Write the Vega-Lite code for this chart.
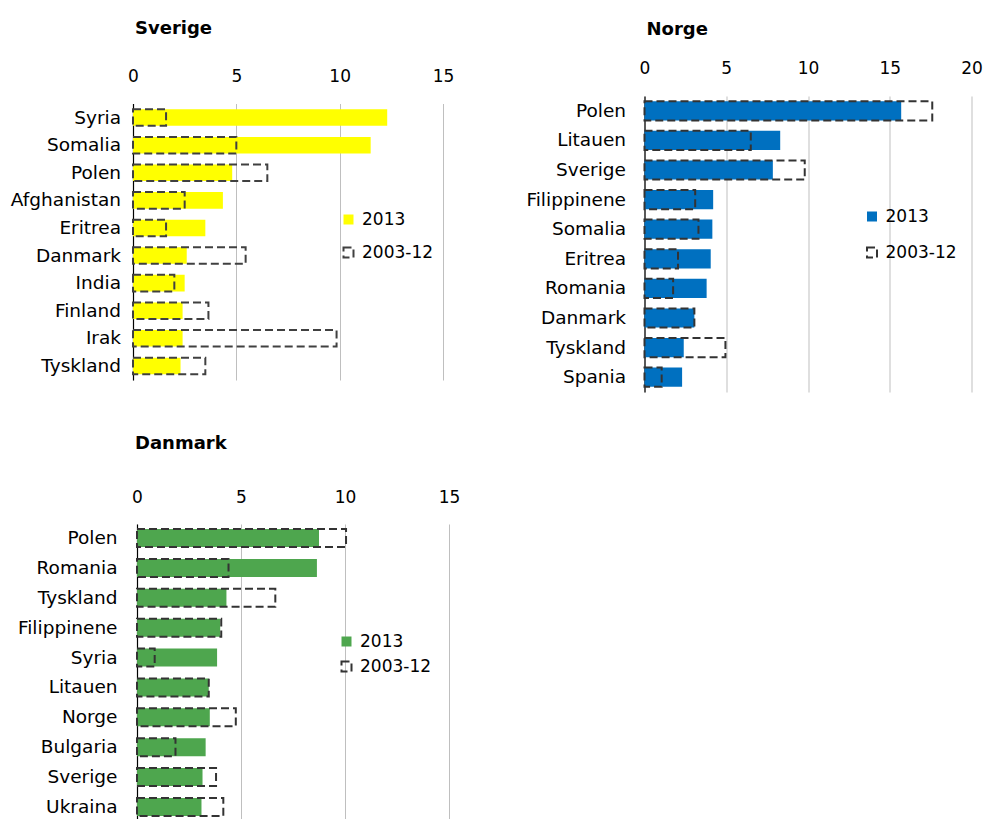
{
  "$schema": "https://vega.github.io/schema/vega-lite/v6.json",
  "padding": {"left": 10, "top": 20, "right": 5, "bottom": 0},
  "background": "white",
  "config": {
    "font": "DejaVu Sans",
    "view": {"stroke": null},
    "title": {"fontSize": 18, "fontWeight": "bold", "anchor": "start", "frame": "group", "color": "#000000", "dx": 2},
    "axis": {"labelColor": "#000000", "labelFont": "DejaVu Sans", "ticks": false, "tickSize": 0, "labelFlush": false},
    "legend": {"orient": "none", "padding": 0, "symbolType": "square", "symbolSize": 100, "labelFontSize": 17, "labelColor": "#000000", "symbolStrokeWidth": 2, "labelOffset": 5}
  },
  "datasets": {
    "sverige": [
      {"land": "Syria", "serie": "2013", "verdi": 12.3},
      {"land": "Somalia", "serie": "2013", "verdi": 11.5},
      {"land": "Polen", "serie": "2013", "verdi": 4.8},
      {"land": "Afghanistan", "serie": "2013", "verdi": 4.35},
      {"land": "Eritrea", "serie": "2013", "verdi": 3.5},
      {"land": "Danmark", "serie": "2013", "verdi": 2.6},
      {"land": "India", "serie": "2013", "verdi": 2.5},
      {"land": "Finland", "serie": "2013", "verdi": 2.4},
      {"land": "Irak", "serie": "2013", "verdi": 2.4},
      {"land": "Tyskland", "serie": "2013", "verdi": 2.3},
      {"land": "Syria", "serie": "2003-12", "verdi": 1.6},
      {"land": "Somalia", "serie": "2003-12", "verdi": 5.0},
      {"land": "Polen", "serie": "2003-12", "verdi": 6.5},
      {"land": "Afghanistan", "serie": "2003-12", "verdi": 2.5},
      {"land": "Eritrea", "serie": "2003-12", "verdi": 1.6},
      {"land": "Danmark", "serie": "2003-12", "verdi": 5.45},
      {"land": "India", "serie": "2003-12", "verdi": 2.0},
      {"land": "Finland", "serie": "2003-12", "verdi": 3.65},
      {"land": "Irak", "serie": "2003-12", "verdi": 9.85},
      {"land": "Tyskland", "serie": "2003-12", "verdi": 3.5}
    ],
    "norge": [
      {"land": "Polen", "serie": "2013", "verdi": 15.7},
      {"land": "Litauen", "serie": "2013", "verdi": 8.3},
      {"land": "Sverige", "serie": "2013", "verdi": 7.85},
      {"land": "Filippinene", "serie": "2013", "verdi": 4.2},
      {"land": "Somalia", "serie": "2013", "verdi": 4.15},
      {"land": "Eritrea", "serie": "2013", "verdi": 4.05},
      {"land": "Romania", "serie": "2013", "verdi": 3.8},
      {"land": "Danmark", "serie": "2013", "verdi": 3.05},
      {"land": "Tyskland", "serie": "2013", "verdi": 2.4},
      {"land": "Spania", "serie": "2013", "verdi": 2.3},
      {"land": "Polen", "serie": "2003-12", "verdi": 17.6},
      {"land": "Litauen", "serie": "2003-12", "verdi": 6.5},
      {"land": "Sverige", "serie": "2003-12", "verdi": 9.8},
      {"land": "Filippinene", "serie": "2003-12", "verdi": 3.1},
      {"land": "Somalia", "serie": "2003-12", "verdi": 3.3},
      {"land": "Eritrea", "serie": "2003-12", "verdi": 2.05},
      {"land": "Romania", "serie": "2003-12", "verdi": 1.75},
      {"land": "Danmark", "serie": "2003-12", "verdi": 3.05},
      {"land": "Tyskland", "serie": "2003-12", "verdi": 4.95},
      {"land": "Spania", "serie": "2003-12", "verdi": 1.05}
    ],
    "danmark": [
      {"land": "Polen", "serie": "2013", "verdi": 8.75},
      {"land": "Romania", "serie": "2013", "verdi": 8.65},
      {"land": "Tyskland", "serie": "2013", "verdi": 4.3},
      {"land": "Filippinene", "serie": "2013", "verdi": 4.0},
      {"land": "Syria", "serie": "2013", "verdi": 3.85},
      {"land": "Litauen", "serie": "2013", "verdi": 3.45},
      {"land": "Norge", "serie": "2013", "verdi": 3.5},
      {"land": "Bulgaria", "serie": "2013", "verdi": 3.3},
      {"land": "Sverige", "serie": "2013", "verdi": 3.15},
      {"land": "Ukraina", "serie": "2013", "verdi": 3.1},
      {"land": "Polen", "serie": "2003-12", "verdi": 10.05},
      {"land": "Romania", "serie": "2003-12", "verdi": 4.4},
      {"land": "Tyskland", "serie": "2003-12", "verdi": 6.65},
      {"land": "Filippinene", "serie": "2003-12", "verdi": 4.05},
      {"land": "Syria", "serie": "2003-12", "verdi": 0.85},
      {"land": "Litauen", "serie": "2003-12", "verdi": 3.45},
      {"land": "Norge", "serie": "2003-12", "verdi": 4.75},
      {"land": "Bulgaria", "serie": "2003-12", "verdi": 1.85},
      {"land": "Sverige", "serie": "2003-12", "verdi": 3.8},
      {"land": "Ukraina", "serie": "2003-12", "verdi": 4.15}
    ]
  },
  "spacing": 43,
  "resolve": {"scale": {"x": "independent", "y": "independent", "fill": "independent", "stroke": "independent", "strokeDash": "independent"}, "legend": {"fill": "independent", "stroke": "independent", "strokeDash": "independent"}},
  "vconcat": [
    {
      "spacing": 71.5,
      "resolve": {"scale": {"x": "independent", "y": "independent", "fill": "independent", "stroke": "independent", "strokeDash": "independent"}, "legend": {"fill": "independent", "stroke": "independent", "strokeDash": "independent"}},
      "hconcat": [
        {
          "title": {"text": "Sverige", "offset": 29},
          "width": 310,
          "height": 296,
          "data": {"name": "sverige"},
          "mark": {"type": "bar", "strokeWidth": 2},
          "encoding": {
            "y": {"field": "land", "type": "nominal", "sort": null, "title": null,
              "scale": {"range": [7.5, 284], "paddingInner": 0.4, "paddingOuter": 0.21},
              "axis": {"labelPadding": 12.5, "labelFontSize": 18.5, "domain": true, "domainColor": "#000000", "domainWidth": 1.2, "grid": false}},
            "x": {"field": "verdi", "type": "quantitative", "stack": null, "title": null,
              "scale": {"domain": [0, 15], "nice": false},
              "axis": {"orient": "top", "values": [0, 5, 10, 15], "domain": false, "grid": true, "gridColor": "#bfbfbf", "gridWidth": 1, "labelPadding": 11, "labelFontSize": 17}},
            "fill": {"field": "serie", "type": "nominal", "sort": null,
              "scale": {"domain": ["2013", "2003-12"], "range": ["#ffff00", "transparent"]},
              "legend": {"title": null, "legendX": 207, "legendY": 115, "rowPadding": 14}},
            "stroke": {"field": "serie", "type": "nominal", "sort": null,
              "scale": {"domain": ["2013", "2003-12"], "range": ["transparent", "#404040"]},
              "legend": {"title": null, "legendX": 207, "legendY": 115, "rowPadding": 14}},
            "strokeDash": {"field": "serie", "type": "nominal", "sort": null,
              "scale": {"domain": ["2013", "2003-12"], "range": [[1, 0], [8, 4]]},
              "legend": {"title": null, "legendX": 207, "legendY": 115, "rowPadding": 14}}
          }
        },
        {
          "title": {"text": "Norge", "offset": 20},
          "width": 327,
          "height": 296,
          "data": {"name": "norge"},
          "mark": {"type": "bar", "strokeWidth": 2},
          "encoding": {
            "y": {"field": "land", "type": "nominal", "sort": null, "title": null,
              "scale": {"paddingInner": 0.35, "paddingOuter": 0.175},
              "axis": {"labelPadding": 19, "labelFontSize": 18.5, "domain": true, "domainColor": "#000000", "domainWidth": 1.2, "grid": false}},
            "x": {"field": "verdi", "type": "quantitative", "stack": null, "title": null,
              "scale": {"domain": [0, 20], "nice": false},
              "axis": {"orient": "top", "values": [0, 5, 10, 15, 20], "domain": false, "grid": true, "gridColor": "#bfbfbf", "gridWidth": 1, "labelPadding": 19, "labelFontSize": 17}},
            "fill": {"field": "serie", "type": "nominal", "sort": null,
              "scale": {"domain": ["2013", "2003-12"], "range": ["#0070c0", "transparent"]},
              "legend": {"title": null, "legendX": 219, "legendY": 112, "rowPadding": 17}},
            "stroke": {"field": "serie", "type": "nominal", "sort": null,
              "scale": {"domain": ["2013", "2003-12"], "range": ["transparent", "#333333"]},
              "legend": {"title": null, "legendX": 219, "legendY": 112, "rowPadding": 17}},
            "strokeDash": {"field": "serie", "type": "nominal", "sort": null,
              "scale": {"domain": ["2013", "2003-12"], "range": [[1, 0], [8, 4]]},
              "legend": {"title": null, "legendX": 219, "legendY": 112, "rowPadding": 17}}
          }
        }
      ]
    },
    {
      "title": {"text": "Danmark", "offset": 35},
      "width": 316,
      "height": 297,
      "data": {"name": "danmark"},
      "mark": {"type": "bar", "strokeWidth": 2},
      "encoding": {
        "y": {"field": "land", "type": "nominal", "sort": null, "title": null,
          "scale": {"paddingInner": 0.4, "paddingOuter": 0.17},
          "axis": {"offset": -4, "labelPadding": 20, "labelFontSize": 18.5, "domain": true, "domainColor": "#000000", "domainWidth": 1.2, "grid": false}},
        "x": {"field": "verdi", "type": "quantitative", "stack": null, "title": null,
          "scale": {"domain": [0, 15], "nice": false, "range": [4, 316]},
          "axis": {"orient": "top", "values": [0, 5, 10, 15], "domain": false, "grid": true, "gridColor": "#bfbfbf", "gridWidth": 1, "labelPadding": 18, "labelFontSize": 17}},
        "fill": {"field": "serie", "type": "nominal", "sort": null,
          "scale": {"domain": ["2013", "2003-12"], "range": ["#4ea64e", "transparent"]},
          "legend": {"title": null, "legendX": 205, "legendY": 109, "rowPadding": 6}},
        "stroke": {"field": "serie", "type": "nominal", "sort": null,
          "scale": {"domain": ["2013", "2003-12"], "range": ["transparent", "#333333"]},
          "legend": {"title": null, "legendX": 205, "legendY": 109, "rowPadding": 6}},
        "strokeDash": {"field": "serie", "type": "nominal", "sort": null,
          "scale": {"domain": ["2013", "2003-12"], "range": [[1, 0], [8, 4]]},
          "legend": {"title": null, "legendX": 205, "legendY": 109, "rowPadding": 6}}
      }
    }
  ]
}
